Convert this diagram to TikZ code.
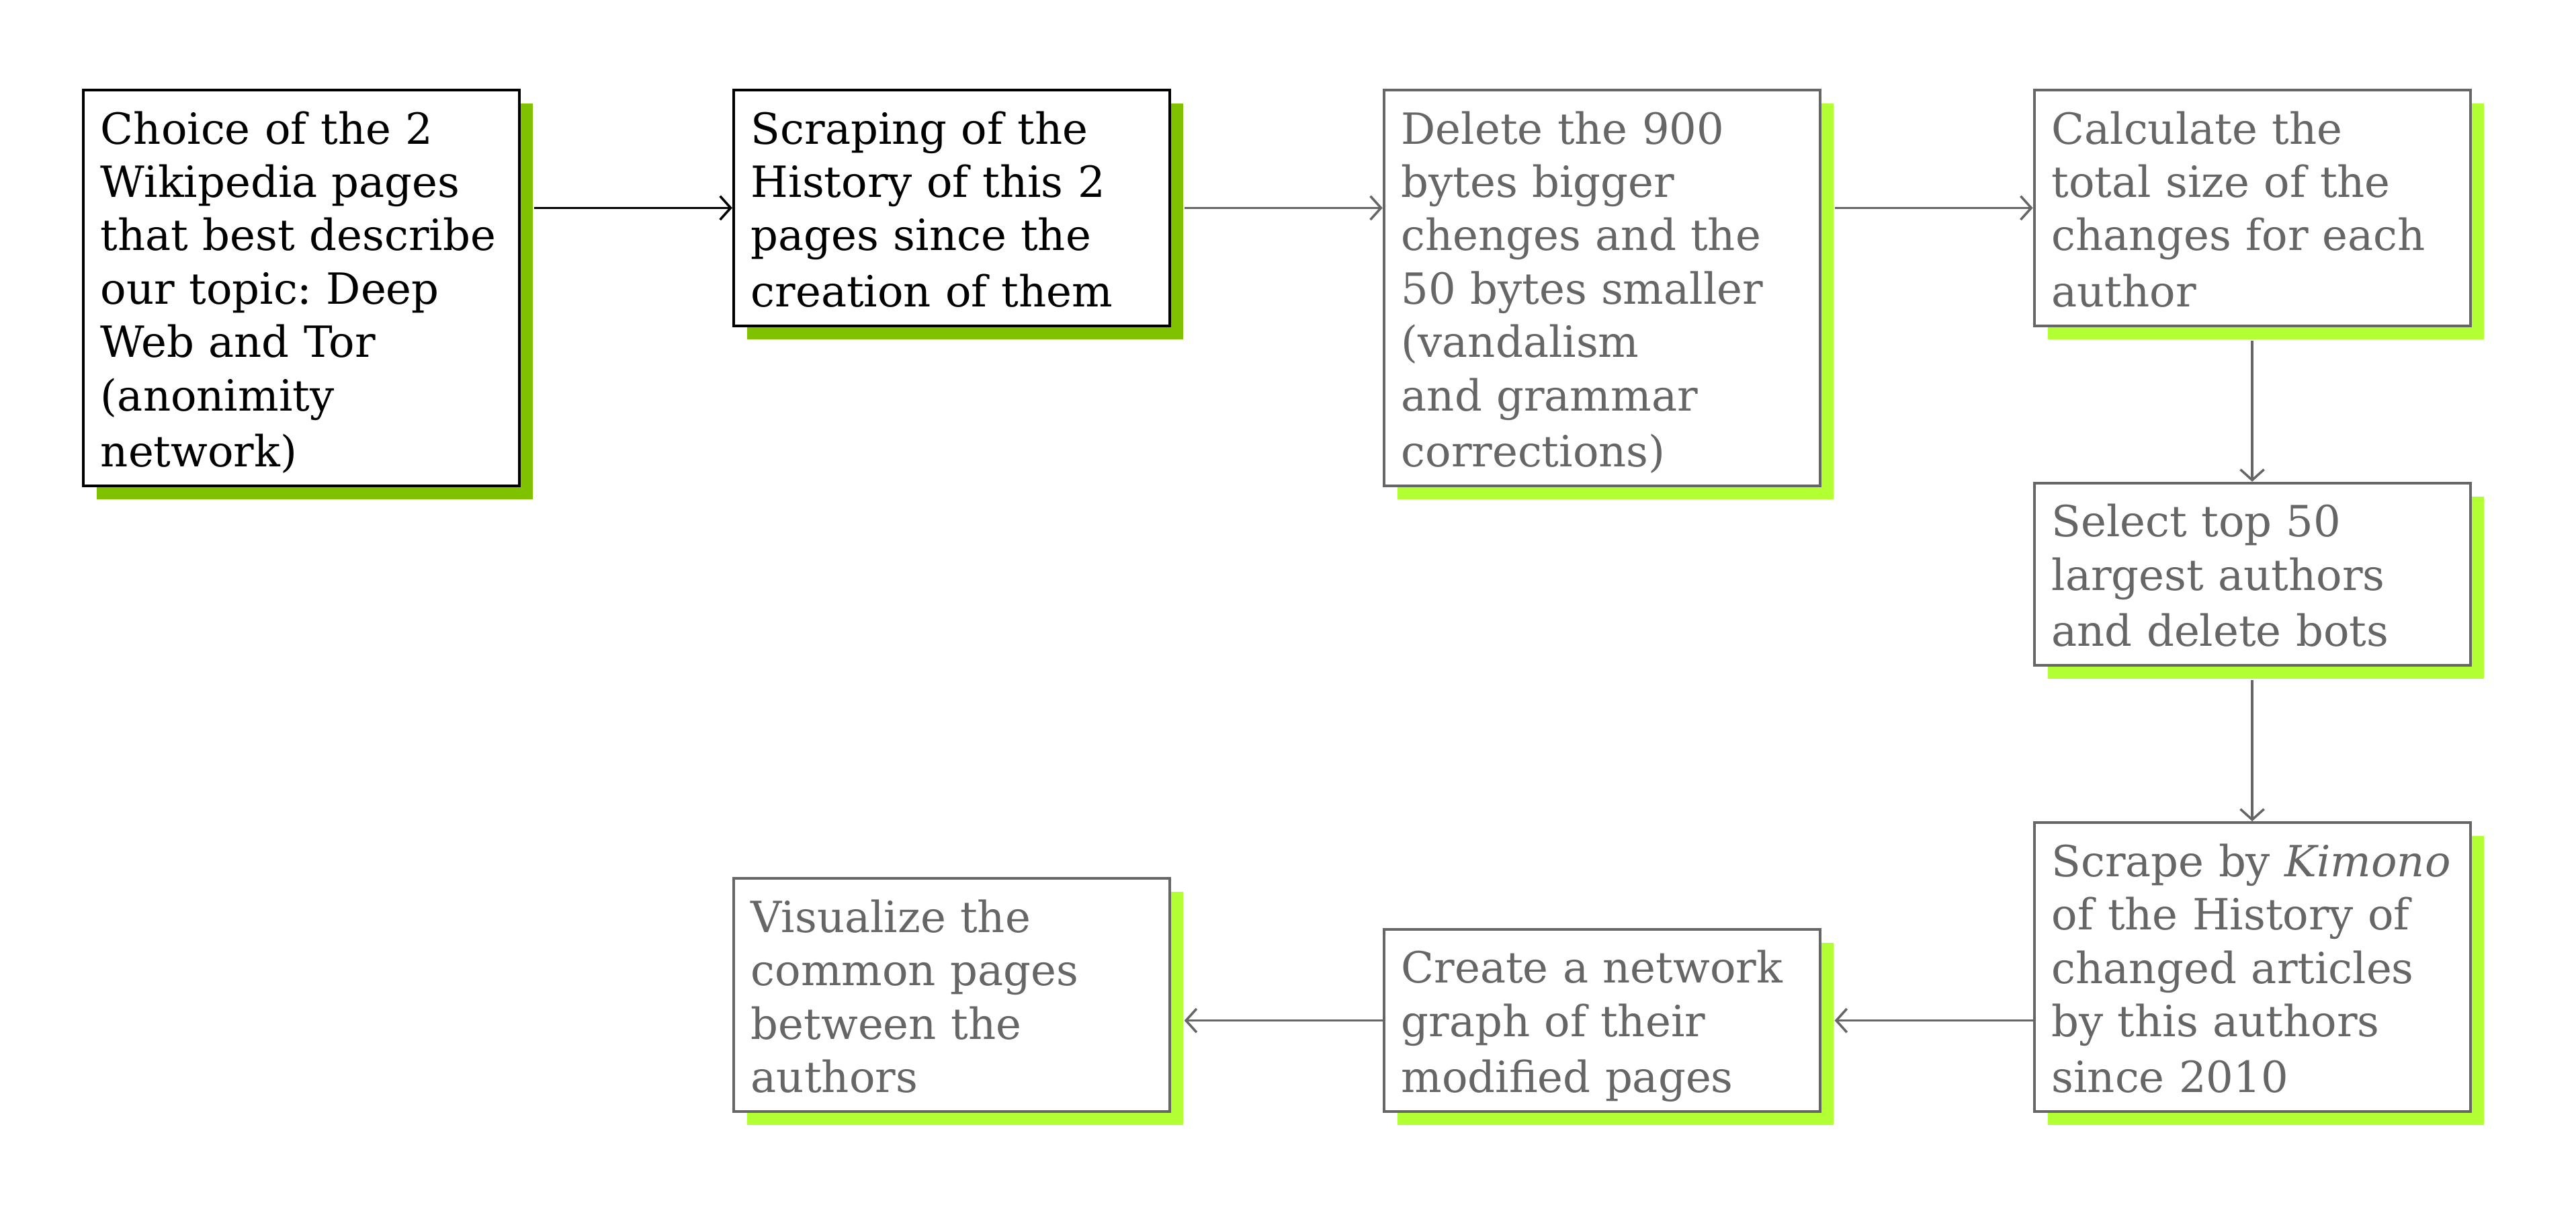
\documentclass[tikz,border=0pt]{standalone}
\usepackage{fontspec}
\setmainfont{DejaVu Serif}
\usetikzlibrary{shadows,arrows.meta}
\frenchspacing
\definecolor{greyc}{RGB}{102,102,102}
\definecolor{darkgreenc}{RGB}{128,193,0}
\definecolor{limec}{RGB}{178,255,51}
\newcommand\boxstrut{\rule[-4pt]{0pt}{22.6pt}}
\tikzstyle{stepbox} = [
  draw,
  fill=white,
  line width=1.1pt,
  anchor=north west,
  text width=5.97cm,
  inner xsep=0.26cm,
  inner ysep=4.2pt,
  align=left,
  font=\fontsize{18.2}{22.6}\selectfont,
  execute at begin node=\boxstrut,
  execute at end node=\boxstrut,
]
\tikzstyle{donebox} = [
  stepbox,
  draw=black,
  text=black,
  drop shadow={shadow xshift=0.2cm, shadow yshift=-0.2cm, fill=darkgreenc, opacity=1},
]
\tikzstyle{todobox} = [
  stepbox,
  draw=greyc,
  text=greyc,
  drop shadow={shadow xshift=0.2cm, shadow yshift=-0.2cm, fill=limec, opacity=1},
]
\tikzstyle{flow} = [
  line width=1pt,
  draw=greyc,
  -{Straight Barb[length=4.5pt,width=10pt]},
]

\begin{document}
\begin{tikzpicture}
      \def\gap{3.15cm}
      \def\vgap{2.3cm}
      \def\shad{0.2cm}

      \useasboundingbox (0,0) rectangle (38.34,-18.05);

      % Top row
      \node[donebox] (choice) at (1.22,-1.32)
        {Choice of the 2\\Wikipedia pages\\that best describe\\our topic: Deep\\Web and Tor\\(anonimity\\network)};
      \node[donebox] (scraping) at ([xshift=\gap]choice.north east)
        {Scraping of the\\History of this 2\\pages since the\\creation of them};
      \node[todobox] (delete) at ([xshift=\gap]scraping.north east)
        {Delete the 900\\bytes bigger\\chenges and the\\50 bytes smaller\\(vandalism\\and grammar\\corrections)};
      \node[todobox] (calc) at ([xshift=\gap]delete.north east)
        {Calculate the\\total size of the\\changes for each\\author};

      % Right column
      \node[todobox] (select) at ([yshift=-\vgap]calc.south west)
        {Select top 50\\largest authors\\and delete bots};
      \node[todobox] (kimono) at ([yshift=-\vgap]select.south west)
        {Scrape by \textit{Kimono}\\of the History of\\changed articles\\by this authors\\since 2010};

      % Bottom row
      \node[todobox, anchor=south east] (graph) at ([xshift=-\gap]kimono.south west)
        {Create a network\\graph of their\\modified pages};
      \node[todobox, anchor=south east] (visual) at ([xshift=-\gap]graph.south west)
        {Visualize the\\common pages\\between the\\authors};

      % Arrows
      \draw[flow, draw=black] ([xshift=\shad]choice.east |- scraping.west) -- (scraping.west);
      \draw[flow] ([xshift=\shad]scraping.east) -- (delete.west |- scraping.east);
      \draw[flow] ([xshift=\shad]delete.east |- calc.west) -- (calc.west);
      \draw[flow] ([yshift=-\shad]calc.south) -- (select.north);
      \draw[flow] ([yshift=-\shad]select.south) -- (kimono.north);
      \draw[flow] (kimono.west |- graph.east) -- ([xshift=\shad]graph.east);
      \draw[flow] (graph.west) -- ([xshift=\shad]visual.east |- graph.west);
    \end{tikzpicture}
\end{document}
